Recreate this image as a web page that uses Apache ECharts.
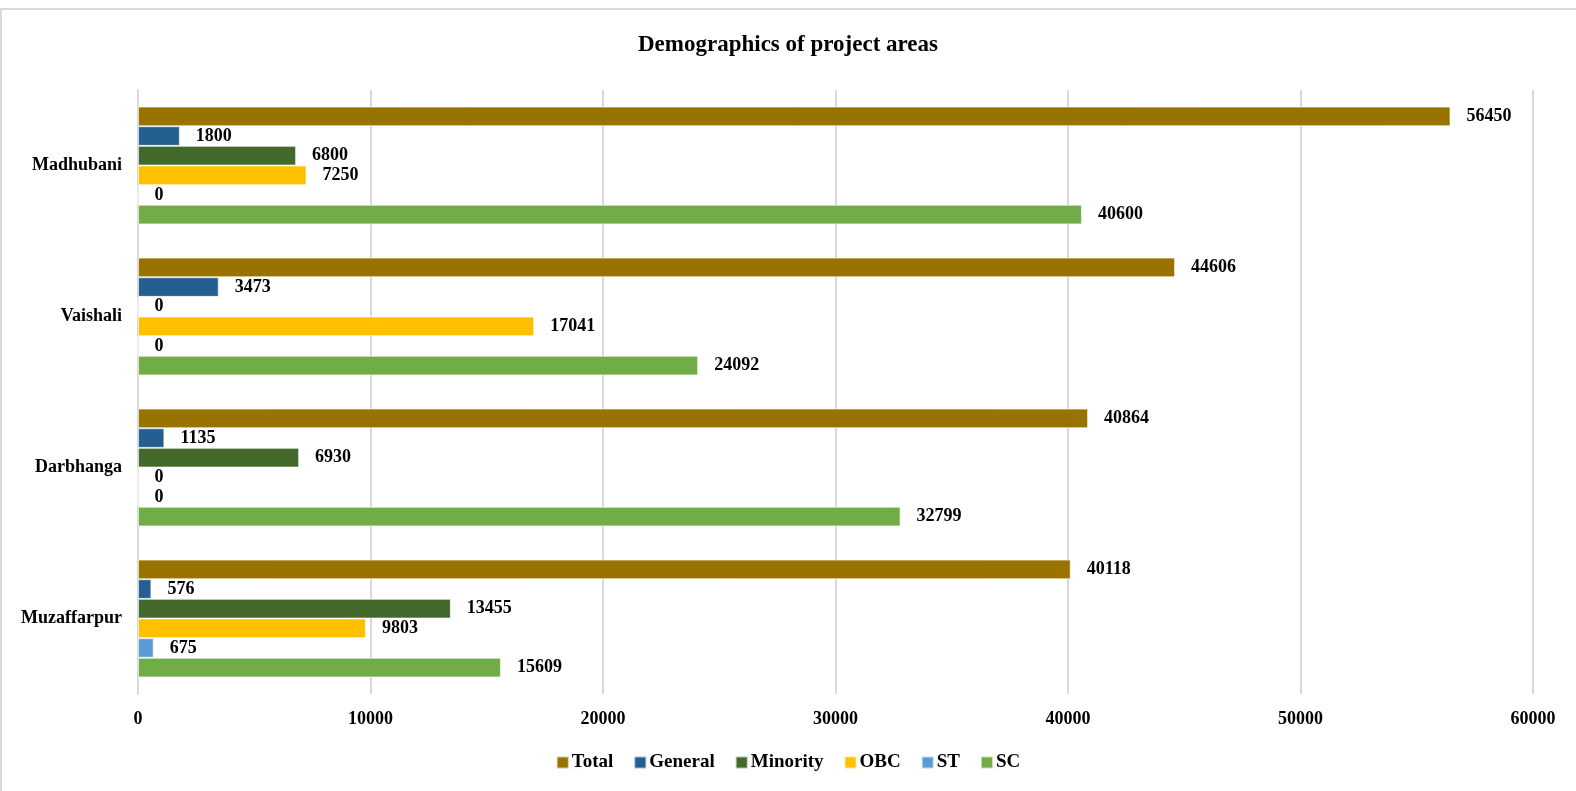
<!DOCTYPE html>
<html>
<head>
<meta charset="utf-8">
<script src="https://cdn.jsdelivr.net/npm/echarts@6/dist/echarts.min.js"></script>
<style>
  html, body { margin: 0; padding: 0; background: #fff; }
  #frame { position: absolute; left: 0; top: 8px; width: 1600px; height: 820px;
           border-top: 2px solid #d9d9d9; border-left: 2px solid #d9d9d9; box-sizing: border-box; }
  #chart { position: absolute; left: 0; top: 0; width: 1576px; height: 791px; }
</style>
</head>
<body>
<div id="frame"></div>
<div id="chart"></div>
<script>
// districts, bottom to top as on the axis
var districts = ['Muzaffarpur', 'Darbhanga', 'Vaishali', 'Madhubani'];

var total    = [40118, 40864, 44606, 56450];
var general  = [576, 1135, 3473, 1800];
var minority = [13455, 6930, 0, 6800];
var obc      = [9803, 0, 17041, 7250];
var st       = [675, 0, 0, 0];
var sc       = [15609, 32799, 24092, 40600];

var xTicks = [0, 10000, 20000, 30000, 40000, 50000, 60000];

var seriesDefs = [
    { name: 'Total',    data: total,    color: '#997300' },
    { name: 'General',  data: general,  color: '#255e91' },
    { name: 'Minority', data: minority, color: '#43682b' },
    { name: 'OBC',      data: obc,      color: '#ffc000' },
    { name: 'ST',       data: st,       color: '#5b9bd5' },
    { name: 'SC',       data: sc,       color: '#70ad47' }
];

var serif = '"Liberation Serif", "DejaVu Serif", serif';

var myChart = echarts.init(document.getElementById('chart'));

var option = {
    backgroundColor: 'transparent',
    animation: false,
    title: {
        text: 'Demographics of project areas',
        left: 'center',
        top: 29,
        textStyle: { fontFamily: serif, fontSize: 23, fontWeight: 'bold', color: '#000' }
    },
    legend: {
        bottom: 14,
        left: 'center',
        itemWidth: 12,
        itemHeight: 12,
        itemGap: 20,
        icon: 'rect',
        textStyle: { fontFamily: serif, fontSize: 19, fontWeight: 'bold', color: '#000', padding: [0, 0, 0, -2] },
        data: seriesDefs.map(function (s) { return s.name; })
    },
    grid: {
        left: 138,
        right: 43,
        top: 90,
        bottom: 97
    },
    xAxis: {
        type: 'value',
        min: xTicks[0],
        max: xTicks[xTicks.length - 1],
        interval: 10000,
        axisLine: { show: false },
        axisTick: { show: false },
        splitLine: { show: true, lineStyle: { color: '#d9d9d9', width: 2 } },
        axisLabel: {
            margin: 16,
            formatter: function (v) { return String(v); },
            fontFamily: serif, fontSize: 18, fontWeight: 'bold', color: '#000'
        }
    },
    yAxis: {
        type: 'category',
        data: districts,
        axisLine: { show: true, lineStyle: { color: '#d9d9d9', width: 2 } },
        axisTick: { show: false },
        axisLabel: {
            margin: 16,
            fontFamily: serif, fontSize: 18, fontWeight: 'bold', color: '#000'
        }
    },
    series: seriesDefs.map(function (s) {
        return {
            name: s.name,
            type: 'bar',
            data: s.data,
            barGap: '0%',
            barCategoryGap: '22%',
            itemStyle: { color: s.color, borderColor: 'rgba(255,255,255,0.6)', borderWidth: 1 },
            label: {
                show: true,
                position: 'right',
                distance: 16,
                fontFamily: serif, fontSize: 18, fontWeight: 'bold', color: '#000'
            }
        };
    })
};

myChart.setOption(option);
</script>
</body>
</html>
